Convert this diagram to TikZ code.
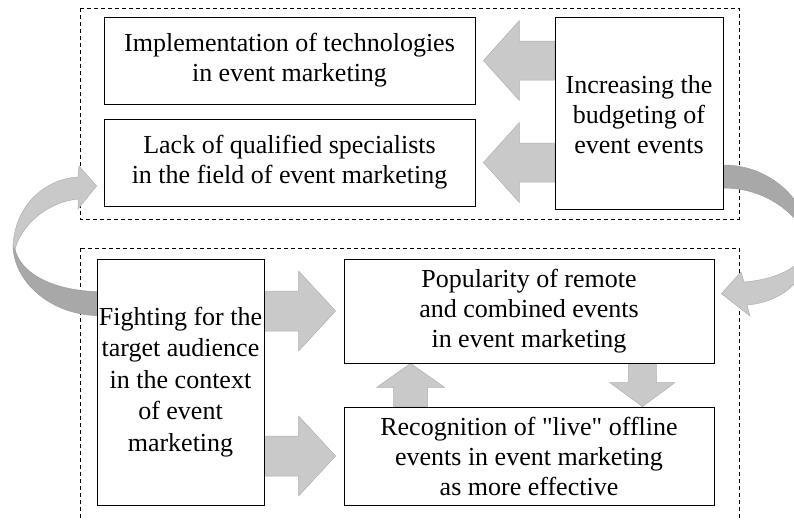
\documentclass[tikz,border=0pt]{standalone}
\usepackage{fontspec}
\setmainfont{Liberation Serif}[Ligatures=TeXOff]
\usetikzlibrary{calc,backgrounds}

% wide block arrow: start, tip, half shaft, half head, head length
\newcommand\fatarrow[5]{
  \coordinate (neck) at ($(#2)!#5!(#1)$);
  \filldraw[arrowbody] ($(#1)!#3!90:(#2)$) -- ($(neck)!#3!-90:(#1)$) --
      ($(neck)!#4!-90:(#1)$) -- (#2) -- ($(neck)!#4!90:(#1)$) --
      ($(neck)!#3!90:(#1)$) -- ($(#1)!#3!-90:(#2)$) -- cycle;
}

\begin{document}
\begin{tikzpicture}[x=1pt, y=-1pt,
    box/.style={draw, line width=0.8pt, align=center, inner sep=0pt,
      font=\fontsize{26}{30}\selectfont},
    frame/.style={draw, dash pattern=on 4pt off 3pt, line width=0.8pt},
    arrowbody/.style={fill=gray!42, draw=gray!62, line width=0.5pt},
    ribbonlight/.style={fill=gray!42, draw=gray!62, line width=0.5pt},
    ribbondark/.style={fill=gray!68, draw=gray!75, line width=0.5pt}]
  \useasboundingbox (0,0) rectangle (794,520);

  % upper group
  \node[box, minimum width=371pt, minimum height=87pt] (impl) at (289.5,60.5)
    {Implementation of technologies\\in event marketing};
  \node[box, minimum width=371pt, minimum height=87pt] (lack) at (289.5,162.5)
    {Lack of qualified specialists\\in the field of event marketing};
  \node[box, minimum width=168pt, minimum height=192pt] (budget) at (639,113)
    {\\[-8pt]Increasing the\\budgeting of\\event events};

  % lower group
  \node[box, minimum width=167pt, minimum height=246pt,
    font=\fontsize{26}{31.5}\selectfont] (fight) at (180.5,382)
    {Fighting for the\\target audience\\in the context\\of event\\marketing};
  \node[box, minimum width=370pt, minimum height=104pt] (remote) at (529,311)
    {Popularity of remote\\and combined events\\in event marketing};
  \node[box, minimum width=370pt, minimum height=98pt] (live) at (529,456)
    {Recognition of "live" offline\\events in event marketing\\as more effective};

  \begin{scope}[on background layer]
    \draw[frame] (80,8) rectangle (739,219);
    \draw[frame] (80,248) rectangle (739,540);

    \coordinate (a1) at (budget.west |- impl.east);
    \coordinate (b1) at ($(impl.east)+(8,0)$);
    \coordinate (a2) at (budget.west |- lack.east);
    \coordinate (b2) at ($(lack.east)+(8,0)$);
    \coordinate (a3) at (fight.east |- remote.west);
    \coordinate (b3) at ($(remote.west)+(-8,0)$);
    \coordinate (a4) at (fight.east |- live.west);
    \coordinate (b4) at ($(live.west)+(-8,0)$);
    \coordinate (a5) at ($(live.north west)+(67,0)$);
    \coordinate (b5) at ($(remote.south west)+(67,0)$);
    \coordinate (a6) at ($(remote.south east)+(-72,0)$);
    \coordinate (b6) at ($(live.north east)+(-72,0)$);

    \fatarrow{a1}{b1}{19.5pt}{40pt}{36pt}
    \fatarrow{a2}{b2}{19.5pt}{40pt}{36pt}
    \fatarrow{a3}{b3}{20pt}{40pt}{37pt}
    \fatarrow{a4}{b4}{20pt}{40pt}{37pt}
    \fatarrow{a5}{b5}{17pt}{34pt}{24pt}
    \fatarrow{a6}{b6}{14pt}{32.5pt}{24pt}

    % curved arrow on the left: fight -> lack
    \coordinate (ltip) at ($(lack.west)+(-7,23.5)$);
    \filldraw[ribbondark] (13,246) .. controls (14,282) and (50,314) ..
      ($(fight.north west)+(0,57)$) -- ($(fight.north west)+(0,33)$)
      .. controls (50,290) and (20,272) .. (15,249) -- cycle;
    \filldraw[ribbonlight] (13,246) .. controls (15,205) and (45,179) .. (78,177)
      -- (79,166) -- (ltip) -- (78,209) -- (78,199)
      .. controls (48,202) and (22,224) .. (15,249) -- cycle;

    % curved arrow on the right: budget -> remote
    \coordinate (rtip) at ($(remote.north east)+(7,35)$);
    \filldraw[ribbondark] ($(budget.east)+(0,52)$) .. controls (770,165) and (808,200) ..
      (810,242) .. controls (800,218) and (770,188) .. ($(budget.east)+(0,75)$) -- cycle;
    \filldraw[ribbonlight] (810,242) .. controls (806,265) and (780,279) .. (744,282)
      -- (741,272) -- (rtip) -- (750,316) -- (747,305)
      .. controls (785,302) and (812,275) .. (810,242) -- cycle;
  \end{scope}
\end{tikzpicture}
\end{document}
